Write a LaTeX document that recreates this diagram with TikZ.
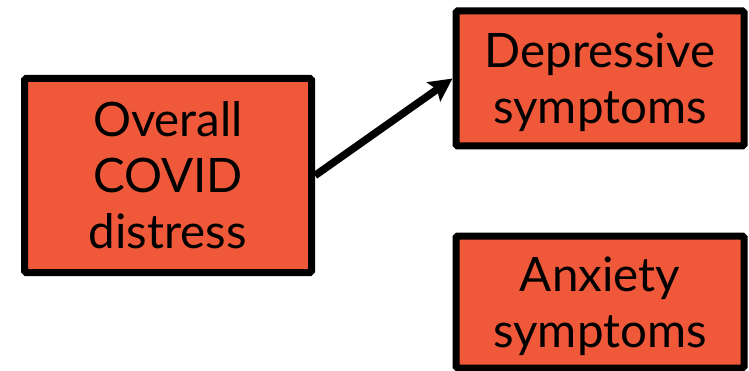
\documentclass[tikz,border=0pt]{standalone}
\usepackage{fontspec}
\setmainfont{Lato}
\usetikzlibrary{arrows.meta,positioning}
\definecolor{boxred}{RGB}{240,88,58}

\begin{document}
\begin{tikzpicture}[x=1pt, y=1pt,
    box/.style={draw, line width=7pt, fill=boxred, rounded corners=1.5pt, align=center, inner sep=0pt,
      text depth=0pt, font=\fontsize{47.5}{56}\selectfont}]
        \useasboundingbox (0,0) rectangle (749,370);
        \node[box, minimum width=287pt, minimum height=194pt] (distress) at (168,194.5) {Overall\\COVID\\distress};
        \node[box, minimum width=288pt, minimum height=135pt] (depress) at (600,291.5) {Depressive\\symptoms};
        \node[box, minimum width=288pt, minimum height=132pt] (anxiety) at (600,68) {Anxiety\\symptoms};
        \draw[line width=7.5pt, -{Stealth[length=23pt, width=23pt, inset=4pt]}] (distress.east) -- (depress.west);
      \end{tikzpicture}
\end{document}
